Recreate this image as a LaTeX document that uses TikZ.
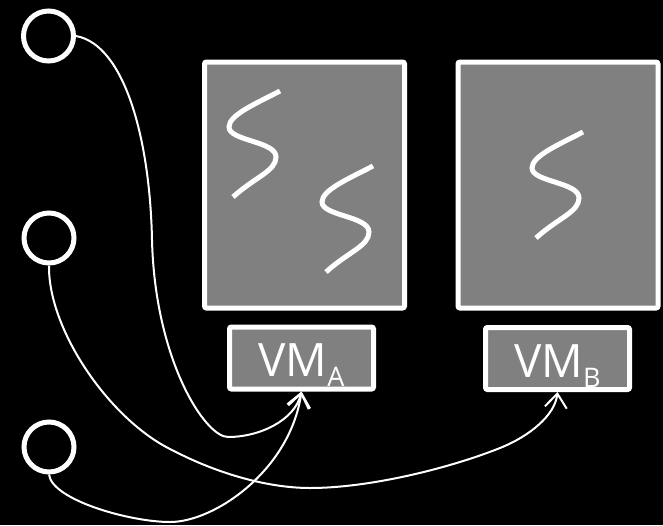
\documentclass[tikz,border=0pt]{standalone}
\usepackage{fontspec}
\setmainfont{Open Sans}
\usetikzlibrary{arrows.meta}
\definecolor{hostgray}{HTML}{808080}
\newcommand\vmsub[1]{\raisebox{-10pt}{\fontsize{27}{27}\selectfont #1}}
\begin{document}
\begin{tikzpicture}[x=1pt,y=-1pt,
  host/.style={draw=white, line width=5pt, fill=hostgray, rounded corners=2pt,
    minimum width=200pt, minimum height=246pt, inner sep=0pt},
  vmbox/.style={draw=white, line width=5pt, fill=hostgray, rounded corners=2pt,
    minimum width=144pt, minimum height=62pt, inner sep=0pt, text=white,
    text height=37.5pt, text depth=0pt, font=\fontsize{46}{46}\selectfont},
  port/.style={circle, draw=white, line width=5pt, minimum size=50pt, inner sep=0pt},
  thread/.style={draw=white, line width=5pt},
  link/.style={draw=white, line width=2pt, -{Straight Barb[length=14pt,width=22pt]}},
  squig/.pic={
    \draw[thread] (0,0) .. controls (-25,13) and (-51,24) .. (-51,36)
      .. controls (-51,50) and (-4,50) .. (-4,66)
      .. controls (-4,80) and (-25,86) .. (-47,106);
  }
]
% page and background
\fill[black] (0,0) rectangle (663,525);
\useasboundingbox (0,0) rectangle (663,525);

% hosts
\node[host] (hostA) at (304.5,185) {};
\node[host] (hostB) at (558,185) {};

% threads inside the hosts
\pic at (280,91) {squig};
\pic at (373,166) {squig};
\pic at (583,132) {squig};

% virtual machines
\node[vmbox] (vma) at (301.5,358) {VM\vmsub{A}};
\node[vmbox] (vmb) at (557.5,358.5) {VM\vmsub{B}};

% ports
\node[port] (c1) at (48.5,36) {};
\node[port] (c2) at (49,238) {};
\node[port] (c3) at (49,447) {};

% connections
\draw[link] (c1.east) .. controls (125,45) and (150,140) .. (152,240)
  .. controls (155,360) and (205,437) .. (228,437)
  .. controls (260,437) and (295,420) .. (vma.south);
\draw[link] (c3.south) .. controls (52,500) and (130,522) .. (170,522)
  .. controls (215,522) and (290,470) .. (vma.south);
\draw[link] (c2.south) .. controls (48,330) and (110,420) .. (172,450)
  .. controls (220,475) and (270,488) .. (310,488)
  .. controls (370,488) and (450,468) .. (500,448)
  .. controls (530,436) and (555,415) .. (vmb.south);
\end{tikzpicture}
\end{document}
